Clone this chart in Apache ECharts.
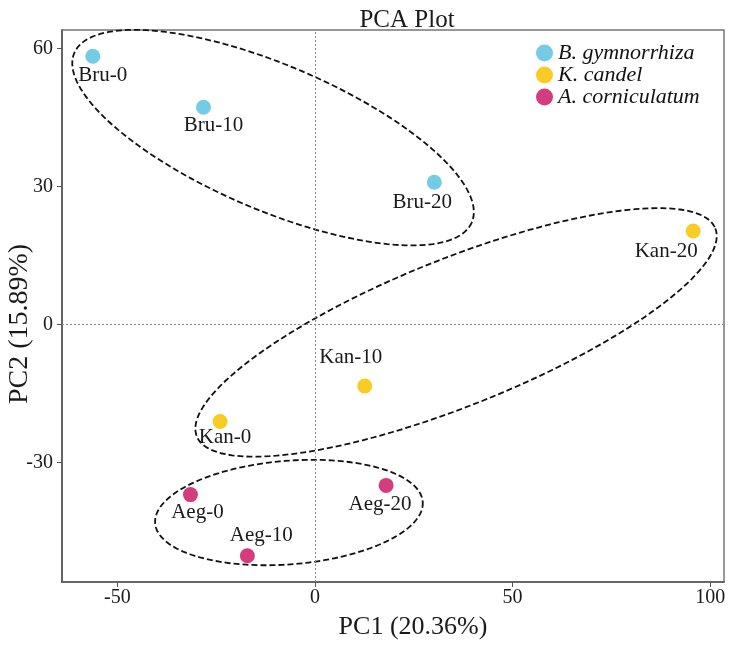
<!DOCTYPE html>
<html><head><meta charset="utf-8">
<script src="https://cdn.jsdelivr.net/npm/echarts@6/dist/echarts.min.js"></script>
<style>html,body{margin:0;padding:0;background:#fff}#c{width:740px;height:647px}</style>
</head><body><div id="c"></div>
<script>
const groupNames = ['B. gymnorrhiza', 'K. candel', 'A. corniculatum'];
const bruNames = ['Bru-0', 'Bru-10', 'Bru-20'];
const bruX = [-56.2, -28.2, 30.2];
const bruY = [58.3, 47.2, 30.9];
const kanNames = ['Kan-0', 'Kan-10', 'Kan-20'];
const kanX = [-24.0, 12.6, 95.7];
const kanY = [-21.1, -13.4, 20.3];
const aegNames = ['Aeg-0', 'Aeg-10', 'Aeg-20'];
const aegX = [-31.5, -17.1, 18.0];
const aegY = [-37.0, -50.3, -35.0];
const xTicks = [-50, 0, 50, 100];
const yTicks = [-30, 0, 30, 60];
// ellipses: centre x, centre y, two conjugate semi-diameters (data units)
const ellBru = [-10.6, 40.6, 50.3, -18.4, -7.16, -14.5];
const ellKan = [35.7, -1.74, 65.6, 22.6, 6.89, -14.8];
const ellAeg = [-6.58, -40.9, 33.85, 2.34, 1.05, -11.22];

// label offsets (style only), relative to point centre, in pixels
const bruOff = [[10, 19], [10, 18], [-12, 20]];
const kanOff = [[5, 16], [-14, -29], [-27, 20]];
const aegOff = [[7, 18], [14, -20], [-6, 19]];

const colors = ['#74CBE6', '#F8CC22', '#D53C7E'];
const FONT = 'Liberation Serif, Times New Roman, serif';

function pts(names, xs, ys, offs) {
  return names.map((n, i) => ({
    name: n, value: [xs[i], ys[i]],
    label: { show: true, position: 'inside', offset: offs[i], formatter: n,
      color: '#1a1a1a', fontFamily: FONT, fontSize: 21 }
  }));
}

function renderEllipse(params, api) {
  const cx = api.value(0), cy = api.value(1), ux = api.value(2), uy = api.value(3),
        vx = api.value(4), vy = api.value(5);
  const p = [];
  const N = 160;
  for (let i = 0; i < N; i++) {
    const t = i / N * 2 * Math.PI;
    p.push(api.coord([cx + ux * Math.cos(t) + vx * Math.sin(t), cy + uy * Math.cos(t) + vy * Math.sin(t)]));
  }
  return { type: 'polygon', shape: { points: p },
    style: { fill: 'none', stroke: '#111', lineWidth: 1.8, lineDash: [6, 3] } };
}

const chart = echarts.init(document.getElementById('c'), null, { renderer: 'canvas' });
const scatterBase = { type: 'scatter', symbol: 'circle', symbolSize: 15, z: 5,
  emphasis: { disabled: true } };

chart.setOption({
  animation: false,
  backgroundColor: '#fff',
  textStyle: { fontFamily: FONT },
  title: { text: 'PCA Plot', left: 402, textAlign: 'center', top: 3,
    textStyle: { fontFamily: FONT, fontSize: 25, fontWeight: 'normal', color: '#1a1a1a' } },
  legend: {
    data: groupNames, orient: 'vertical', left: 536, top: 42, icon: 'circle', padding: 0,
    itemWidth: 17, itemHeight: 17, itemGap: 0,
    textStyle: { fontFamily: FONT, fontStyle: 'italic', fontSize: 22, lineHeight: 22, color: '#111' }
  },
  grid: { left: 62, right: 16, top: 30, bottom: 65, show: true, borderColor: '#777', borderWidth: 1.5,
    outerBoundsMode: 'none', containLabel: false },
  xAxis: {
    type: 'value', min: -64, max: 103.5,
    name: 'PC1 (20.36%)', nameLocation: 'middle', nameGap: 32, nameMoveOverlap: false,
    nameTextStyle: { fontFamily: FONT, fontSize: 26, color: '#1a1a1a', padding: [0, 0, 0, 40] },
    axisLine: { show: true, onZero: false, lineStyle: { color: '#555', width: 1.5 } },
    axisTick: { show: true, length: 5, customValues: xTicks, lineStyle: { color: '#555' } },
    axisLabel: { customValues: xTicks, margin: 6, fontFamily: FONT, fontSize: 20, color: '#1a1a1a' },
    splitLine: { show: false }
  },
  yAxis: {
    type: 'value', min: -56, max: 64,
    name: 'PC2 (15.89%)', nameLocation: 'middle', nameGap: 28, nameRotate: 90, nameMoveOverlap: false,
    nameTextStyle: { fontFamily: FONT, fontSize: 28, color: '#1a1a1a', padding: [0, 36, 0, 0] },
    axisLine: { show: true, onZero: false, lineStyle: { color: '#555', width: 1.5 } },
    axisTick: { show: true, length: 5, customValues: yTicks, lineStyle: { color: '#555' } },
    axisLabel: { customValues: yTicks, margin: 9, fontFamily: FONT, fontSize: 20, color: '#1a1a1a' },
    splitLine: { show: false }
  },
  series: [
    {
      type: 'custom', name: 'ellipses', renderItem: renderEllipse, z: 3, silent: true,
      data: [ellBru, ellKan, ellAeg],
      markLine: {
        silent: true, symbol: 'none', label: { show: false },
        lineStyle: { type: [2, 2], color: '#888', width: 1 },
        data: [{ xAxis: 0 }, { yAxis: 0 }]
      }
    },
    Object.assign({}, scatterBase, { name: groupNames[0], itemStyle: { color: colors[0], opacity: 1 },
      data: pts(bruNames, bruX, bruY, bruOff) }),
    Object.assign({}, scatterBase, { name: groupNames[1], itemStyle: { color: colors[1], opacity: 1 },
      data: pts(kanNames, kanX, kanY, kanOff) }),
    Object.assign({}, scatterBase, { name: groupNames[2], itemStyle: { color: colors[2], opacity: 1 },
      data: pts(aegNames, aegX, aegY, aegOff) })
  ]
});
</script></body></html>
